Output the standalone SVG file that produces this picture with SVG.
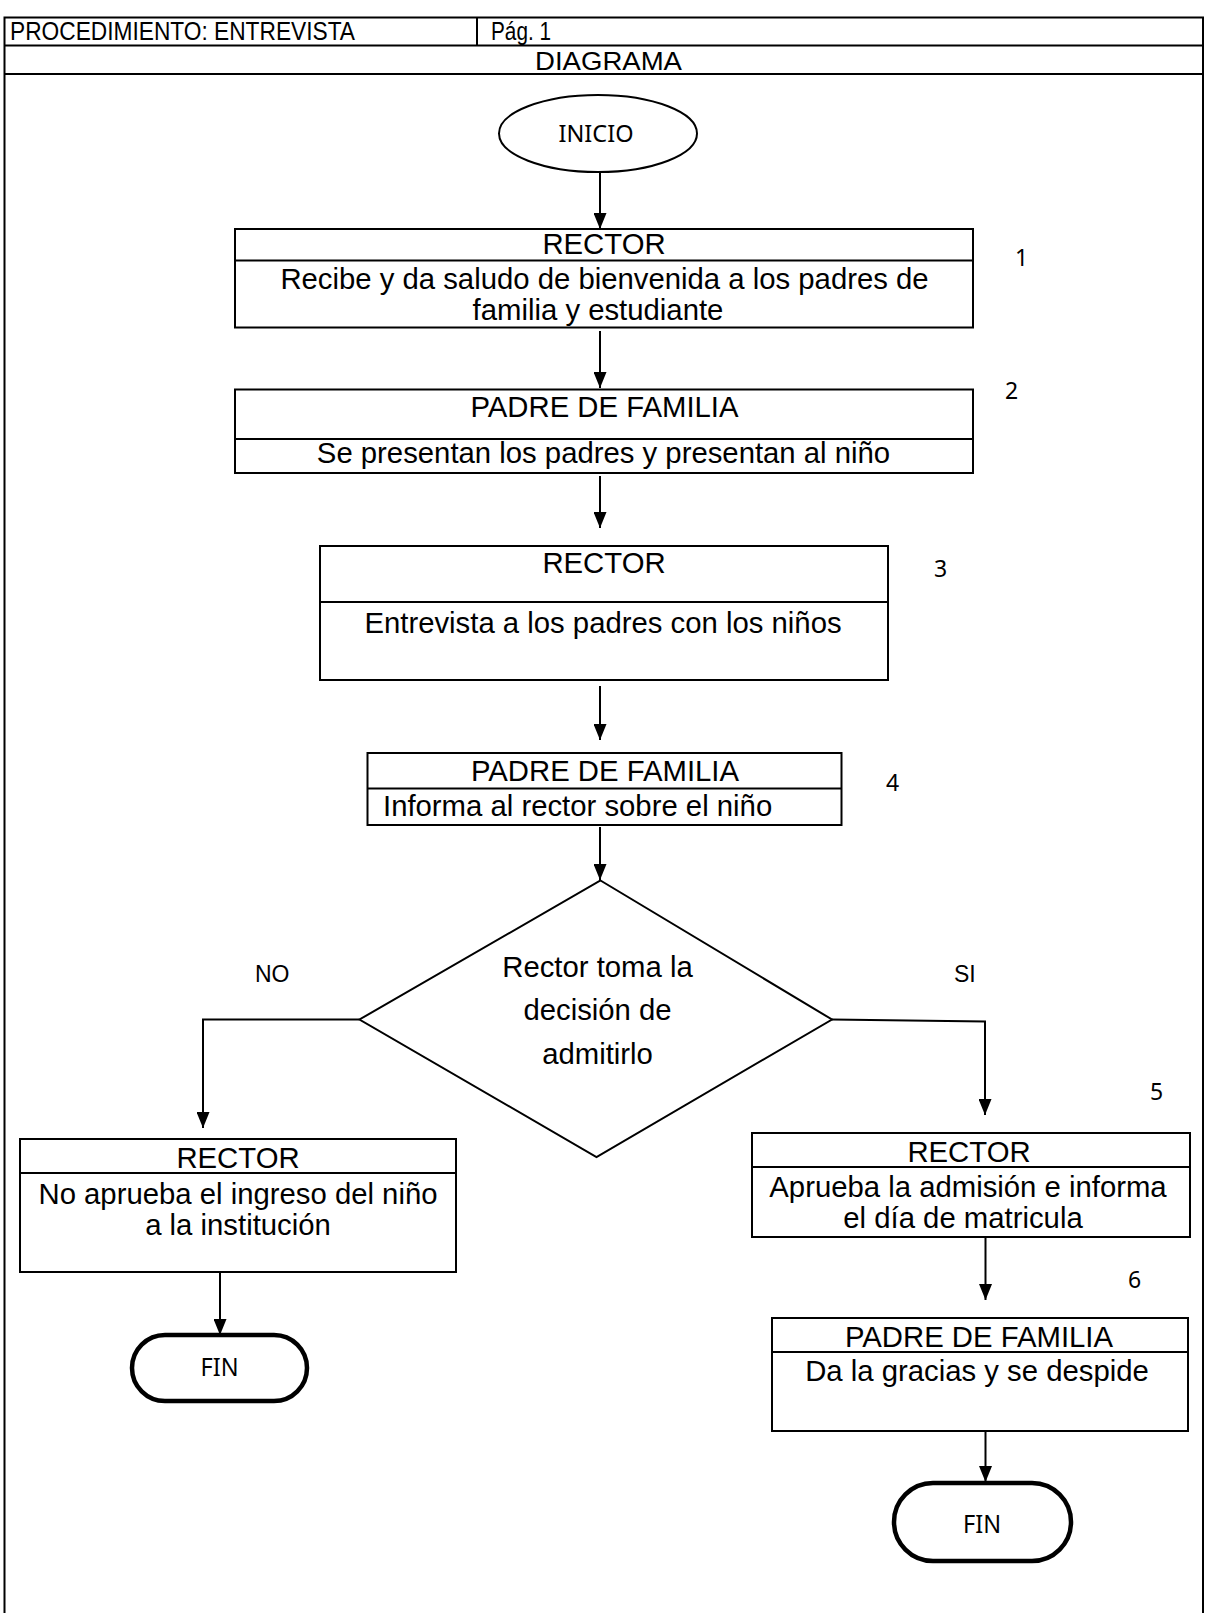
<svg xmlns="http://www.w3.org/2000/svg" width="1205" height="1613" viewBox="0 0 1205 1613">
<defs>
<style>
.f{font-family:"Liberation Sans",Arial,sans-serif;fill:#000}
.t{font-size:29.3px}
.c{font-family:"Noto Sans","Open Sans",sans-serif;fill:#000}
.n{font-size:23px}
.box{fill:#fff;stroke:#000;stroke-width:2}
.ln{fill:none;stroke:#000;stroke-width:2}
.pill{fill:#fff;stroke:#000;stroke-width:4.5}
</style>
<marker id="ah" markerUnits="userSpaceOnUse" markerWidth="16" markerHeight="13" refX="16" refY="6.5" orient="auto">
<path d="M0,0 L16,6.5 L0,13 z" fill="#000"/>
</marker>
</defs>
<rect width="1205" height="1613" fill="#fff"/>
<g id="frame">
<path class="ln" d="M4.5,1613 V17.5 H1203 V1613"/>
<line class="ln" x1="4.5" y1="45.5" x2="1203" y2="45.5"/>
<line class="ln" x1="4.5" y1="74" x2="1203" y2="74"/>
<line class="ln" x1="477" y1="17.5" x2="477" y2="45.5"/>
<text class="f" x="10" y="40" font-size="26" textLength="345" lengthAdjust="spacingAndGlyphs">PROCEDIMIENTO: ENTREVISTA</text>
<text class="f" x="491" y="40" font-size="26" textLength="60" lengthAdjust="spacingAndGlyphs">Pág. 1</text>
<text class="f" x="535" y="69.5" font-size="26" textLength="147" lengthAdjust="spacingAndGlyphs">DIAGRAMA</text>
</g>
<g id="connectors">
<line class="ln" x1="600" y1="172" x2="600" y2="229" marker-end="url(#ah)"/>
<line class="ln" x1="600" y1="331" x2="600" y2="388" marker-end="url(#ah)"/>
<line class="ln" x1="600" y1="476" x2="600" y2="528" marker-end="url(#ah)"/>
<line class="ln" x1="600" y1="686" x2="600" y2="740" marker-end="url(#ah)"/>
<line class="ln" x1="600" y1="827" x2="600" y2="880" marker-end="url(#ah)"/>
<path class="ln" d="M359.5,1019.5 H203 V1128" marker-end="url(#ah)"/>
<path class="ln" d="M832,1019.5 L985,1021.5 V1115" marker-end="url(#ah)"/>
<line class="ln" x1="220" y1="1272" x2="220" y2="1335" marker-end="url(#ah)"/>
<line class="ln" x1="985.5" y1="1238" x2="985.5" y2="1300" marker-end="url(#ah)"/>
<line class="ln" x1="985.5" y1="1431" x2="985.5" y2="1482" marker-end="url(#ah)"/>
<text class="f" x="255" y="981.5" font-size="23">NO</text>
<text class="f" x="954" y="981.5" font-size="23">SI</text>
</g>
<g id="inicio">
<ellipse class="box" cx="598" cy="133.5" rx="99" ry="38.5"/>
<text class="c" x="596" y="142" font-size="23.5" text-anchor="middle">INICIO</text>
</g>
<g id="paso1">
<rect class="box" x="235" y="229" width="738" height="98.5"/>
<line class="ln" x1="235" y1="260.5" x2="973" y2="260.5"/>
<text class="f t" x="604" y="253.5" text-anchor="middle">RECTOR</text>
<text class="f t" x="604.5" y="288.5" text-anchor="middle">Recibe y da saludo de bienvenida a los padres de</text>
<text class="f t" x="598" y="319.5" text-anchor="middle">familia y estudiante</text>
<text class="c n" x="1015" y="266">1</text>
</g>
<g id="paso2">
<rect class="box" x="235" y="389.5" width="738" height="83.5"/>
<line class="ln" x1="235" y1="439" x2="973" y2="439"/>
<text class="f t" x="604.5" y="417" text-anchor="middle">PADRE DE FAMILIA</text>
<text class="f t" x="603.5" y="462.5" text-anchor="middle">Se presentan los padres y presentan al niño</text>
<text class="c n" x="1005" y="399">2</text>
</g>
<g id="paso3">
<rect class="box" x="320" y="546" width="568" height="134"/>
<line class="ln" x1="320" y1="602" x2="888" y2="602"/>
<text class="f t" x="604" y="573" text-anchor="middle">RECTOR</text>
<text class="f t" x="603" y="633" text-anchor="middle">Entrevista a los padres con los niños</text>
<text class="c n" x="934" y="577">3</text>
</g>
<g id="paso4">
<rect class="box" x="367.5" y="753" width="474" height="72"/>
<line class="ln" x1="367.5" y1="788.5" x2="841.5" y2="788.5"/>
<text class="f t" x="605" y="781" text-anchor="middle">PADRE DE FAMILIA</text>
<text class="f t" x="383" y="816">Informa al rector sobre el niño</text>
<text class="c n" x="886" y="791">4</text>
</g>
<g id="decision">
<polygon class="box" points="600.5,880.5 832,1019.5 596.5,1157 359.5,1019.5"/>
<text class="f t" x="597.5" y="976.5" text-anchor="middle">Rector toma la</text>
<text class="f t" x="597.5" y="1019.5" text-anchor="middle">decisión de</text>
<text class="f t" x="597.5" y="1064" text-anchor="middle">admitirlo</text>
</g>
<g id="rector-no">
<rect class="box" x="20" y="1139" width="436" height="133"/>
<line class="ln" x1="20" y1="1173" x2="456" y2="1173"/>
<text class="f t" x="238" y="1167.5" text-anchor="middle">RECTOR</text>
<text class="f t" x="238" y="1203.5" text-anchor="middle">No aprueba el ingreso del niño</text>
<text class="f t" x="238" y="1235" text-anchor="middle">a la institución</text>
</g>
<g id="fin-no">
<rect class="pill" x="132" y="1335" width="175" height="66" rx="33"/>
<text class="c" x="219.5" y="1376" font-size="25" text-anchor="middle" textLength="38" lengthAdjust="spacingAndGlyphs">FIN</text>
</g>
<g id="rector-si">
<rect class="box" x="752" y="1133" width="438" height="104"/>
<line class="ln" x1="752" y1="1167" x2="1190" y2="1167"/>
<text class="f t" x="969" y="1161.5" text-anchor="middle">RECTOR</text>
<text class="f t" x="968" y="1196.5" text-anchor="middle">Aprueba la admisión e informa</text>
<text class="f t" x="963" y="1227.5" text-anchor="middle">el día de matricula</text>
<text class="c n" x="1150" y="1100">5</text>
</g>
<g id="padre-fin">
<rect class="box" x="772" y="1318" width="416" height="113"/>
<line class="ln" x1="772" y1="1352" x2="1188" y2="1352"/>
<text class="f t" x="979" y="1346.5" text-anchor="middle">PADRE DE FAMILIA</text>
<text class="f t" x="977" y="1381" text-anchor="middle">Da la gracias y se despide</text>
<text class="c n" x="1128" y="1288">6</text>
</g>
<g id="fin-si">
<rect class="pill" x="894" y="1483" width="177" height="78" rx="39"/>
<text class="c" x="982" y="1533" font-size="25" text-anchor="middle" textLength="38" lengthAdjust="spacingAndGlyphs">FIN</text>
</g>
</svg>
